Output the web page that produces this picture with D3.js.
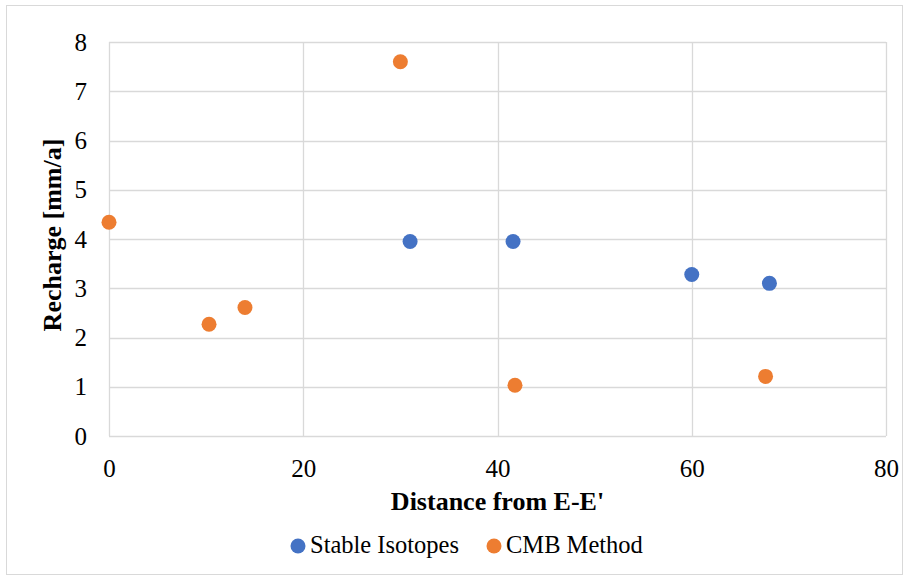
<!DOCTYPE html>
<html>
<head>
<meta charset="utf-8">
<script src="https://cdn.jsdelivr.net/npm/d3@7"></script>
<style>
  html, body { margin: 0; padding: 0; background: #fff; }
  svg { display: block; }
</style>
</head>
<body>
<svg id="chart" width="909" height="580"></svg>
<script>
// Recharge estimates along the section, by method
const isotopeDistance = [31, 41.6, 60, 68];
const isotopeRecharge = [3.95, 3.95, 3.28, 3.1];
const cmbDistance = [0, 10.3, 14, 30, 41.8, 67.6];
const cmbRecharge = [4.34, 2.27, 2.61, 7.6, 1.03, 1.21];
const xTicks = [0, 20, 40, 60, 80];
const yTicks = [0, 1, 2, 3, 4, 5, 6, 7, 8];
const seriesNames = ["Stable Isotopes", "CMB Method"];
const seriesColors = ["#4472C4", "#ED7D31"];

const FONT = "'Liberation Serif', 'Times New Roman', Times, serif";
const svg = d3.select("#chart");
const W = 909, H = 580;
const plot = { left: 109, top: 42, right: 886, bottom: 436 };

// outer chart frame
svg.append("rect")
  .attr("x", 6.5).attr("y", 5.5)
  .attr("width", W - 13).attr("height", H - 11)
  .attr("fill", "#fff").attr("stroke", "#d9d9d9").attr("stroke-width", 1);

const x = d3.scaleLinear().domain([0, 80]).range([plot.left, plot.right]);
const y = d3.scaleLinear().domain([0, 8]).range([plot.bottom, plot.top]);

// gridlines
const grid = svg.append("g").attr("stroke", "#d9d9d9").attr("stroke-width", 1.3);
grid.selectAll("line.h").data(yTicks).join("line")
  .attr("x1", plot.left).attr("x2", plot.right)
  .attr("y1", d => Math.round(y(d)) + 0.5).attr("y2", d => Math.round(y(d)) + 0.5);
grid.selectAll("line.v").data(xTicks).join("line")
  .attr("y1", plot.top).attr("y2", plot.bottom)
  .attr("x1", d => Math.round(x(d)) + 0.5).attr("x2", d => Math.round(x(d)) + 0.5);

// axes (labels only, lines are drawn by the grid)
const yAxis = svg.append("g")
  .attr("transform", `translate(${plot.left},0)`)
  .call(d3.axisLeft(y).tickValues(yTicks).tickSize(0).tickPadding(22).tickFormat(d3.format("d")))
  .attr("font-family", FONT).attr("font-size", 25);
yAxis.select(".domain").remove();
yAxis.selectAll("text").attr("fill", "#000");

const xAxis = svg.append("g")
  .attr("transform", `translate(0,${plot.bottom})`)
  .call(d3.axisBottom(x).tickValues(xTicks).tickSize(0).tickPadding(23).tickFormat(d3.format("d")))
  .attr("font-family", FONT).attr("font-size", 25);
xAxis.select(".domain").remove();
xAxis.selectAll("text").attr("fill", "#000");

// axis titles
svg.append("text")
  .attr("x", (plot.left + plot.right) / 2).attr("y", 510)
  .attr("text-anchor", "middle")
  .attr("font-family", FONT).attr("font-size", 26).attr("font-weight", "bold")
  .text("Distance from E-E'");

svg.append("text")
  .attr("transform", `translate(61,235) rotate(-90)`)
  .attr("text-anchor", "middle")
  .attr("font-family", FONT).attr("font-size", 26).attr("font-weight", "bold")
  .text("Recharge [mm/a]");

// markers
const r = 7.5;
const isoPts = isotopeDistance.map((d, i) => ({ x: d, y: isotopeRecharge[i] }));
const cmbPts = cmbDistance.map((d, i) => ({ x: d, y: cmbRecharge[i] }));

svg.append("g").selectAll("circle").data(isoPts).join("circle")
  .attr("cx", d => x(d.x)).attr("cy", d => y(d.y)).attr("r", r)
  .attr("fill", seriesColors[0]);
svg.append("g").selectAll("circle").data(cmbPts).join("circle")
  .attr("cx", d => x(d.x)).attr("cy", d => y(d.y)).attr("r", r)
  .attr("fill", seriesColors[1]);

// legend
const legendX = [298, 494];
const legend = svg.append("g");
seriesNames.forEach((name, i) => {
  legend.append("circle").attr("cx", legendX[i]).attr("cy", 546).attr("r", 7.5).attr("fill", seriesColors[i]);
  legend.append("text").attr("x", legendX[i] + 12).attr("y", 553)
    .attr("font-family", FONT).attr("font-size", 24.5).text(name);
});
</script>
</body>
</html>
